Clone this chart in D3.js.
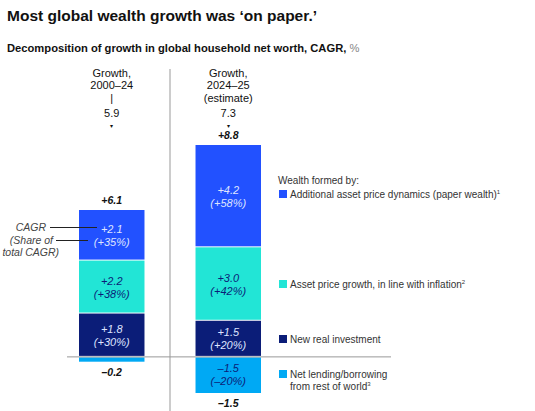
<!DOCTYPE html>
<html>
<head>
<meta charset="utf-8">
<script src="https://cdn.jsdelivr.net/npm/d3@7"></script>
<style>
  body { margin: 0; background: #fff; }
  text { font-family: "Liberation Sans", Arial, sans-serif; }
</style>
</head>
<body>
<div id="chart"></div>
<script>
// data
const periods = ["2000-24", "2024-25"];
const headers = [["Growth,", "2000–24", "|", "5.9"], ["Growth,", "2024–25", "(estimate)", "7.3"]];
const series = ["New real investment", "Asset price growth, in line with inflation", "Additional asset price dynamics (paper wealth)"];
const posValues = [[1.8, 2.2, 2.1], [1.5, 3.05, 4.25]];
const posLabels = [[["+1.8", "(+30%)"], ["+2.2", "(+38%)"], ["+2.1", "(+35%)"]],
                   [["+1.5", "(+20%)"], ["+3.0", "(+42%)"], ["+4.2", "(+58%)"]]];
const negValues = [-0.2, -1.5];
const negLabels = [null, ["–1.5", "(–20%)"]];
const topTotals = ["+6.1", "+8.8"];
const bottomTotals = ["–0.2", "–1.5"];

const width = 535, height = 411;
const colors = ["#0B1D78", "#22E5D6", "#2251FF", "#00A9F4"];
const textCol = ["#dfe4ff", "#0B1D78", "#dfe4ff", "#0B1D78"];

const svg = d3.select("#chart").append("svg")
  .attr("width", width).attr("height", height);

svg.append("text").attr("x", 7).attr("y", 21)
  .attr("font-size", 15.5).attr("font-weight", "bold").attr("fill", "#111")
  .text("Most global wealth growth was ‘on paper.’");

const sub = svg.append("text").attr("x", 7).attr("y", 52)
  .attr("font-size", 11.2).attr("font-weight", "bold").attr("fill", "#111")
  .text("Decomposition of growth in global household net worth, CAGR, ");
sub.append("tspan").attr("font-weight", "normal").attr("fill", "#888").text("%");

const x = d3.scaleBand().domain(periods).range([79, 261]).paddingInner(0.438).paddingOuter(0);
const y = d3.scaleLinear().domain([-1.5, 8.8]).range([393, 145]);

// separator
svg.append("line").attr("x1", 170).attr("x2", 170).attr("y1", 69).attr("y2", height)
  .attr("stroke", "#bbb").attr("stroke-width", 1.5);

// headers
periods.forEach((p, i) => {
  const cx = x(p) + x.bandwidth() / 2;
  const g = svg.append("g").attr("font-size", 11).attr("fill", "#111").attr("text-anchor", "middle");
  const h = headers[i];
  g.append("text").attr("x", cx).attr("y", 77).text(h[0]);
  g.append("text").attr("x", cx).attr("y", 89).text(h[1]);
  g.append("text").attr("x", cx).attr("y", 102).text(h[2]);
  g.append("text").attr("x", cx).attr("y", 117).text(h[3]);
  g.append("text").attr("x", cx).attr("y", 128).attr("font-size", 6).text("▾");
});

// stacked bars
periods.forEach((p, i) => {
  let base = 0;
  const cx = x(p) + x.bandwidth() / 2;
  posValues[i].forEach((v, k) => {
    const y0 = y(base), y1 = y(base + v);
    svg.append("rect").attr("x", x(p)).attr("width", x.bandwidth())
      .attr("y", y1).attr("height", y0 - y1 - 1).attr("fill", colors[k]);
    const lab = posLabels[i][k];
    const cy = (y0 + y1) / 2;
    const t = svg.append("text").attr("text-anchor", "middle").attr("font-size", 11)
      .attr("font-style", "italic").attr("fill", textCol[k]);
    t.append("tspan").attr("x", cx).attr("y", cy - 2.5).text(lab[0]);
    t.append("tspan").attr("x", cx).attr("y", cy + 10.5).text(lab[1]);
    base += v;
  });
  const n = negValues[i];
  svg.append("rect").attr("x", x(p)).attr("width", x.bandwidth())
    .attr("y", y(0) + 0.5).attr("height", y(n) - y(0) - 0.5).attr("fill", colors[3]);
  if (negLabels[i]) {
    const cy = (y(0) + y(n)) / 2;
    const t = svg.append("text").attr("text-anchor", "middle").attr("font-size", 11)
      .attr("font-style", "italic").attr("fill", textCol[3]);
    t.append("tspan").attr("x", cx).attr("y", cy - 2.5).text(negLabels[i][0]);
    t.append("tspan").attr("x", cx).attr("y", cy + 10.5).text(negLabels[i][1]);
  }
  svg.append("text").attr("x", cx).attr("y", y(base) - 6).attr("text-anchor", "middle")
    .attr("font-size", 10.5).attr("font-weight", "bold").attr("font-style", "italic").attr("fill", "#111")
    .text(topTotals[i]);
  svg.append("text").attr("x", cx).attr("y", y(n) + 14).attr("text-anchor", "middle")
    .attr("font-size", 10.5).attr("font-weight", "bold").attr("font-style", "italic").attr("fill", "#111")
    .text(bottomTotals[i]);
});

// zero line
svg.append("line").attr("x1", 67).attr("x2", 391).attr("y1", y(0)).attr("y2", y(0))
  .attr("stroke", "#999").attr("stroke-width", 1);

// annotation
const ann = svg.append("g").attr("font-size", 10.5).attr("font-style", "italic").attr("fill", "#444").attr("text-anchor", "end");
ann.append("text").attr("x", 46).attr("y", 231).text("CAGR");
ann.append("text").attr("x", 53).attr("y", 244).text("(Share of");
ann.append("text").attr("x", 59).attr("y", 256).text("total CAGR)");
svg.append("line").attr("x1", 50).attr("x2", 97).attr("y1", 227.5).attr("y2", 227.5).attr("stroke", "#222");
svg.append("line").attr("x1", 56).attr("x2", 88).attr("y1", 240.5).attr("y2", 240.5).attr("stroke", "#222");

// legend
const leg = svg.append("g").attr("font-size", 10).attr("fill", "#333");
leg.append("text").attr("x", 278).attr("y", 183.5).text("Wealth formed by:");
const legItems = [
  { k: 2, y: 194, lines: ["Additional asset price dynamics (paper wealth)"], sup: "1" },
  { k: 1, y: 284, lines: ["Asset price growth, in line with inflation"], sup: "2" },
  { k: 0, y: 339, lines: ["New real investment"], sup: "" },
  { k: 3, y: 374, lines: ["Net lending/borrowing", "from rest of world"], sup: "3" }
];
legItems.forEach(d => {
  leg.append("rect").attr("x", 279).attr("y", d.y - 4).attr("width", 8).attr("height", 8).attr("fill", colors[d.k]);
  d.lines.forEach((l, j) => {
    const t = leg.append("text").attr("x", 290).attr("y", d.y + 3.5 + j * 12).text(l);
    if (j === d.lines.length - 1 && d.sup) {
      t.append("tspan").attr("font-size", 6).attr("dy", -4).text(d.sup);
    }
  });
});
</script>
</body>
</html>
